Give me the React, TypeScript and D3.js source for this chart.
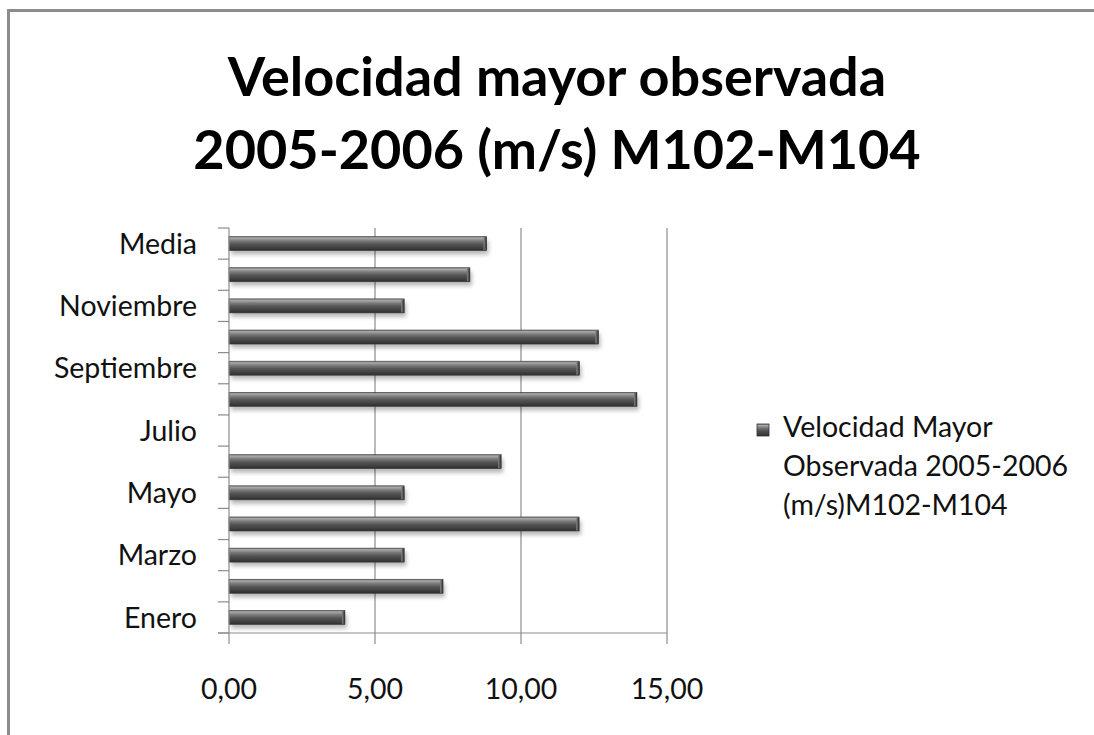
import React from 'react';
import * as d3 from 'd3';

// categories bottom -> top, as in the chart
const categories = [
  'Enero', 'Febrero', 'Marzo', 'Abril', 'Mayo', 'Junio', 'Julio',
  'Agosto', 'Septiembre', 'Octubre', 'Noviembre', 'Diciembre', 'Media',
];
const values = [3.97, 7.33, 6.0, 11.99, 6.0, 9.32, null, 13.97, 12.0, 12.65, 6.0, 8.25, 8.82];
const shownLabels = ['Enero', 'Marzo', 'Mayo', 'Julio', 'Septiembre', 'Noviembre', 'Media'];
const xTicks = [0, 5, 10, 15];
const titleLines = ['Velocidad mayor observada', '2005-2006 (m/s) M102-M104'];
const legendLines = ['Velocidad Mayor', 'Observada 2005-2006', '(m/s)M102-M104'];

const W = 1094;
const H = 735;
const FONT = 'Lato, "Open Sans", sans-serif';

export default function App() {
  const plot = { left: 229, right: 667, top: 228, bottom: 633 };

  const x = d3.scaleLinear().domain([0, 15]).range([plot.left, plot.right]);
  const y = d3.scaleBand<string>()
    .domain(categories.slice().reverse())
    .range([plot.top, plot.bottom])
    .paddingInner(0.55)
    .paddingOuter(0.275);

  const step = y.step();
  const fmt = (v: number) => d3.format('.2f')(v).replace('.', ',');

  return (
    <svg width={W} height={H} style={{ position: 'absolute', left: 0, top: 0, background: '#fff' }}>
      <defs>
        <linearGradient id="bar" x1="0" y1="0" x2="0" y2="1">
          <stop offset="0" stopColor="#7a7a7a" />
          <stop offset="0.12" stopColor="#a8a8a8" />
          <stop offset="0.3" stopColor="#7c7c7c" />
          <stop offset="0.55" stopColor="#545454" />
          <stop offset="0.85" stopColor="#3c3c3c" />
          <stop offset="1" stopColor="#2c2c2c" />
        </linearGradient>
        <linearGradient id="cap" x1="0" y1="0" x2="1" y2="0">
          <stop offset="0" stopColor="#8a8a8a" stopOpacity="0.9" />
          <stop offset="1" stopColor="#2a2a2a" stopOpacity="1" />
        </linearGradient>
        <filter id="shadow" x="-5%" y="-50%" width="110%" height="250%">
          <feGaussianBlur stdDeviation="2" />
        </filter>
      </defs>

      {/* chart frame */}
      <rect x={8.5} y={10.5} width={W + 20} height={H + 20} fill="#fff" stroke="#8c8c8c" strokeWidth={3} />

      {/* title */}
      {titleLines.map((t, i) => (
        <text key={t} x={557} y={96 + i * 73} textAnchor="middle" fontFamily={FONT}
          fontWeight="bold" fontSize={54} fill="#000">{t}</text>
      ))}

      {/* vertical grid lines */}
      {xTicks.filter(t => t > 0).map(t => (
        <line key={t} x1={x(t)} x2={x(t)} y1={plot.top} y2={plot.bottom} stroke="#8c8c8c" strokeWidth={1.2} />
      ))}

      {/* bars */}
      {categories.map((c, i) => {
        const v = values[i];
        if (v == null) return null;
        const by = y(c)!;
        const bh = y.bandwidth();
        const bw = x(v) - x(0);
        return (
          <g key={c}>
            <rect x={x(0) + 2} y={by + 4} width={bw} height={bh} fill="#000" opacity={0.28} filter="url(#shadow)" />
            <rect x={x(0)} y={by} width={bw} height={bh} fill="url(#bar)" stroke="#3a3a3a" strokeWidth={0.6} />
            <rect x={x(v) - 3} y={by + 0.5} width={3} height={bh - 1} fill="url(#cap)" />
          </g>
        );
      })}

      {/* y axis */}
      <line x1={plot.left} x2={plot.left} y1={plot.top} y2={plot.bottom} stroke="#8c8c8c" strokeWidth={1.2} />
      {d3.range(categories.length + 1).map(k => {
        const ty = plot.top + k * step;
        return <line key={k} x1={plot.left - 11} x2={plot.left} y1={ty} y2={ty} stroke="#8c8c8c" strokeWidth={1.2} />;
      })}
      {categories.filter(c => shownLabels.includes(c)).map(c => (
        <text key={c} x={197} y={y(c)! + y.bandwidth() / 2} dy="0.36em" textAnchor="end"
          fontFamily={FONT} fontSize={28.5} fill="#111">{c}</text>
      ))}

      {/* x axis */}
      <line x1={plot.left - 11} x2={plot.right} y1={plot.bottom} y2={plot.bottom} stroke="#8c8c8c" strokeWidth={1.2} />
      {xTicks.map(t => (
        <g key={t}>
          <line x1={x(t)} x2={x(t)} y1={plot.bottom} y2={plot.bottom + 11} stroke="#8c8c8c" strokeWidth={1.2} />
          <text x={x(t)} y={699} textAnchor="middle" fontFamily={FONT} fontSize={28.5} fill="#111">{fmt(t)}</text>
        </g>
      ))}

      {/* legend */}
      <rect x={757} y={424} width={12} height={12} fill="url(#bar)" stroke="#333" strokeWidth={0.8} />
      {legendLines.map((t, i) => (
        <text key={t} x={783} y={437 + i * 39} fontFamily={FONT} fontSize={28.5} fill="#111">{t}</text>
      ))}
    </svg>
  );
}
